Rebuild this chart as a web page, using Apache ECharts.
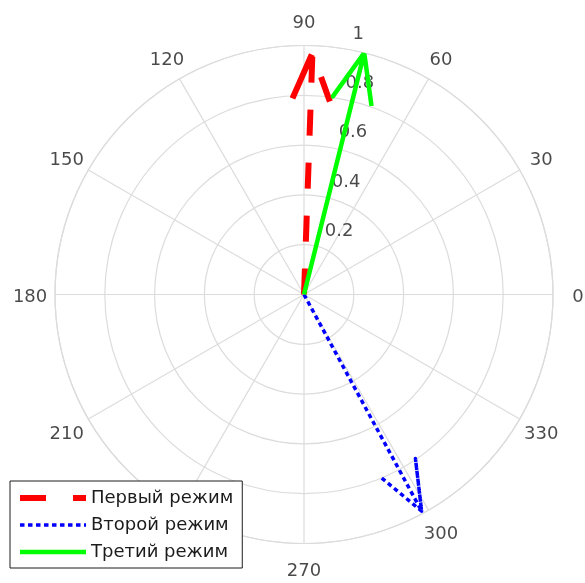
<!DOCTYPE html>
<html><head><meta charset="utf-8">
<script src="https://cdn.jsdelivr.net/npm/echarts@6/dist/echarts.min.js"></script>
<style>html,body{margin:0;padding:0;background:#fff}#c{width:585px;height:583px}</style>
</head><body><div id="c"></div>
<script>
// ---- data ----
const seriesNames = ['Первый режим', 'Второй режим', 'Третий режим'];
const arrowRadius = [0.97, 0.99, 1.0];
const arrowAngle = [88, 298.5, 76];
const angleTicks = [0, 30, 60, 90, 120, 150, 180, 210, 240, 270, 300, 330];
const angleTickLabels = ['0', '30', '60', '90', '120', '150', '180', '210', '240', '270', '300', '330'];
const radiusTicks = [0.2, 0.4, 0.6, 0.8, 1];
const radiusTickLabels = ['0.2', '0.4', '0.6', '0.8', '1'];

// ---- styles ----
const colors = ['#ff0000', '#0000ff', '#00ff00'];
const widths = [6, 3.5, 4.5];
const dashes = [[26, 27], [4.5, 3.5], 'solid'];
const gridColor = '#dcdcdc';
const textColor = '#1c1c1c';
const FONT = 'DejaVu Sans';
const R = 249;

// MATLAB compass arrow: 0 -> tip -> barb(+) -> tip -> barb(-)
function arrowPath(r, th) {
  const br = r * Math.sqrt(0.8 * 0.8 + 0.08 * 0.08);
  const bd = Math.atan2(0.08, 0.8) * 180 / Math.PI;
  return [[0, th], [r, th], [br, th + bd], [r, th], [br, th - bd]];
}

const series = seriesNames.map((n, i) => ({
  name: n,
  type: 'line',
  coordinateSystem: 'polar',
  polarIndex: 0,
  symbol: 'none',
  silent: true,
  z: 10 + i,
  data: arrowPath(arrowRadius[i], arrowAngle[i]),
  lineStyle: { color: colors[i], width: widths[i], type: dashes[i], cap: 'butt', join: 'round' },
  itemStyle: { color: colors[i] }
}));

series.push({
  name: 'angleLabels',
  type: 'scatter',
  coordinateSystem: 'polar',
  polarIndex: 1,
  symbolSize: 1,
  silent: true,
  itemStyle: { color: 'rgba(0,0,0,0)' },
  data: angleTicks.map((a, i) => ({ value: [1.1, a], label: { formatter: angleTickLabels[i] } })),
  label: { show: true, position: 'inside', offset: [0, 3], color: textColor, fontSize: 18, fontFamily: FONT, align: 'center', verticalAlign: 'middle' }
});

series.push({
  name: 'radiusLabels',
  type: 'scatter',
  coordinateSystem: 'polar',
  polarIndex: 1,
  symbolSize: 1,
  silent: true,
  itemStyle: { color: 'rgba(0,0,0,0)' },
  data: radiusTicks.map((r, i) => ({ value: [r + 0.01, 82], label: { formatter: radiusTickLabels[i] } })),
  label: { show: true, position: [14, -2], color: textColor, fontSize: 18, fontFamily: FONT, align: 'left', verticalAlign: 'bottom' }
});

const chart = echarts.init(document.getElementById('c'), null, { renderer: 'canvas' });
chart.setOption({
  animation: false,
  backgroundColor: '#fff',
  polar: [
    { center: [304, 294.5], radius: R },
    { center: [304, 294.5], radius: R * 1.2 }
  ],
  angleAxis: [{
    polarIndex: 0,
    type: 'value', min: 0, max: 360, interval: 30, startAngle: 0, clockwise: false,
    axisLine: { show: true, lineStyle: { color: gridColor, width: 1.2 } },
    axisTick: { show: false }, axisLabel: { show: false },
    splitLine: { show: true, lineStyle: { color: gridColor, width: 1.2 } }
  }, {
    polarIndex: 1,
    type: 'value', min: 0, max: 360, interval: 30, startAngle: 0, clockwise: false,
    axisLine: { show: false }, axisTick: { show: false }, axisLabel: { show: false }, splitLine: { show: false }
  }],
  radiusAxis: [{
    polarIndex: 0,
    type: 'value', min: 0, max: 1, interval: 0.2,
    axisLine: { show: false }, axisTick: { show: false }, axisLabel: { show: false },
    splitLine: { show: true, lineStyle: { color: gridColor, width: 1.2 } }
  }, {
    polarIndex: 1,
    type: 'value', min: 0, max: 1.2, interval: 0.2,
    axisLine: { show: false }, axisTick: { show: false }, axisLabel: { show: false }, splitLine: { show: false }
  }],
  legend: {
    data: seriesNames,
    orient: 'vertical', left: 10, top: 481,
    itemWidth: 66, itemHeight: 14, itemGap: 9,
    padding: [8, 9, 7, 7],
    borderColor: textColor, borderWidth: 1, backgroundColor: '#fff',
    itemStyle: { opacity: 0 },
    lineStyle: { width: 'inherit' },
    textStyle: { color: textColor, fontSize: 18, lineHeight: 18, fontFamily: FONT },
    selectedMode: false
  },
  series: series
});
</script></body></html>
